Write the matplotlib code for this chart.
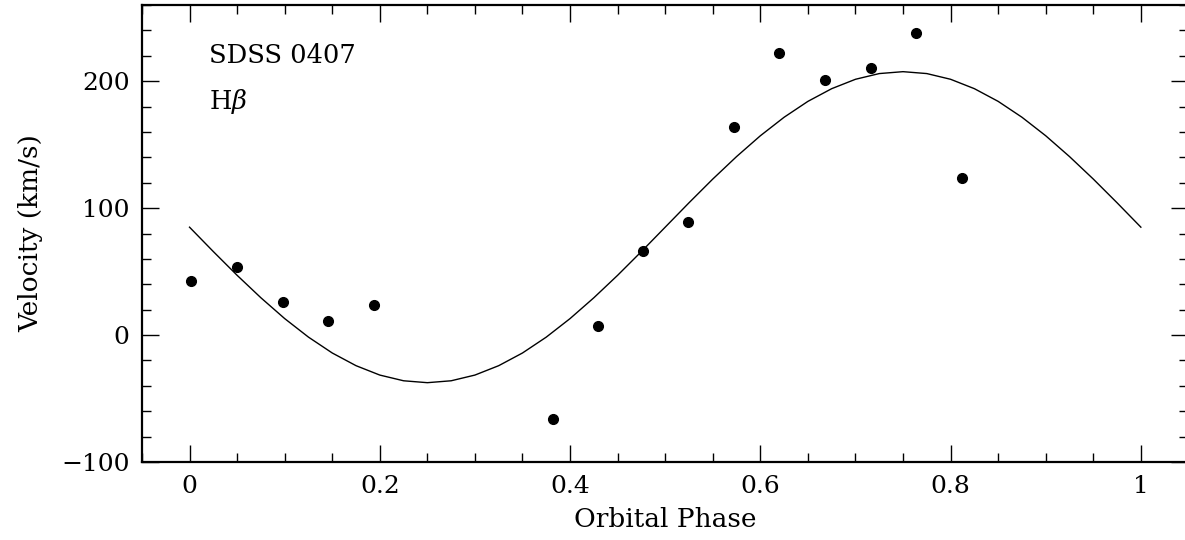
import numpy as np
import matplotlib
matplotlib.use("Agg")
import matplotlib.pyplot as plt
from matplotlib.ticker import MultipleLocator

#%% Data

# measured H-beta radial velocities
phase = [0.002, 0.050, 0.098, 0.146, 0.194, 0.382, 0.429, 0.477, 0.524,
         0.572, 0.620, 0.668, 0.716, 0.764, 0.812]
velocity = [42.6, 53.9, 25.8, 11.4, 24.0, -65.9, 7.2, 66.5, 89.1,
            164.0, 222.3, 201.0, 210.7, 237.8, 123.5]

# fitted sine curve, read every 0.025 in phase
fit_phase = [0.0, 0.025, 0.05, 0.075, 0.1, 0.125, 0.15, 0.175, 0.2, 0.225,
             0.25, 0.275, 0.3, 0.325, 0.35, 0.375, 0.4, 0.425, 0.45, 0.475,
             0.5, 0.525, 0.55, 0.575, 0.6, 0.625, 0.65, 0.675, 0.7, 0.725,
             0.75, 0.775, 0.8, 0.825, 0.85, 0.875, 0.9, 0.925, 0.95, 0.975, 1.0]
fit_velocity = [85.0, 65.8, 47.1, 29.4, 13.0, -1.6, -14.1, -24.1, -31.5, -36.0,
                -37.5, -36.0, -31.5, -24.1, -14.1, -1.6, 13.0, 29.4, 47.1, 65.8,
                85.0, 104.2, 122.9, 140.6, 157.0, 171.6, 184.1, 194.1, 201.5, 206.0,
                207.5, 206.0, 201.5, 194.1, 184.1, 171.6, 157.0, 140.6, 122.9, 104.2, 85.0]

#%% Plot

plt.rcParams['font.family'] = ['DejaVu Serif']
plt.rcParams['mathtext.fontset'] = 'dejavuserif'

fig = plt.figure(figsize=(11.85, 5.4), dpi=100)
ax = fig.add_axes([0.1198, 0.1444, 0.8831, 0.8463])

ax.plot(fit_phase, fit_velocity, color='black', lw=1.0)
ax.plot(phase, velocity, 'o', color='black', ms=7)

ax.set_xlim(-0.05, 1.05)
ax.set_ylim(-100, 260)
ax.xaxis.set_minor_locator(MultipleLocator(0.05))
ax.yaxis.set_major_locator(MultipleLocator(100))
ax.yaxis.set_minor_locator(MultipleLocator(20))
ax.set_xticks([0, 0.2, 0.4, 0.6, 0.8, 1.0])
ax.set_xticklabels(['0', '0.2', '0.4', '0.6', '0.8', '1'])

ax.tick_params(which='both', direction='in', top=True, right=True, labelsize=18, width=1.0)
ax.tick_params(which='major', length=12, pad=9)
ax.tick_params(which='minor', length=6.5)
for s in ax.spines.values():
    s.set_linewidth(1.6)

ax.set_xlabel('Orbital Phase', fontsize=19, labelpad=7)
ax.set_ylabel('Velocity (km/s)', fontsize=19, labelpad=13)

ax.text(0.0205, 220, 'SDSS 0407', fontsize=18.5, va='center', ha='left')
ax.text(0.0205, 184, r'H$\beta$', fontsize=18.5, va='center', ha='left')

fig.savefig('out.png', dpi=100)
